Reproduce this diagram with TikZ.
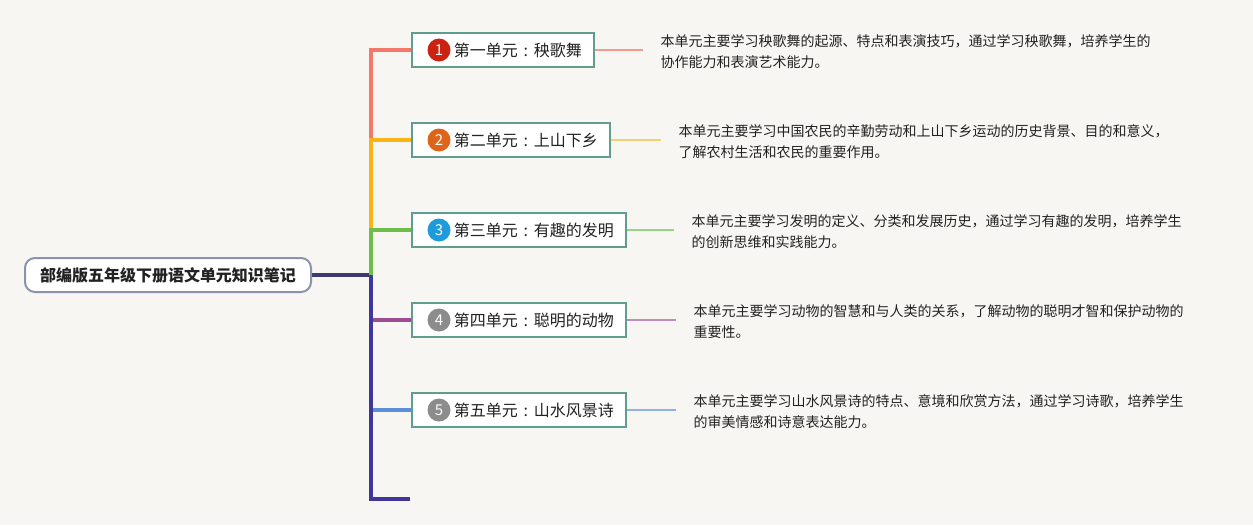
\documentclass[tikz,border=0pt]{standalone}
\usepackage{fontspec}
\newfontfamily\cjk{Noto Sans CJK SC}
\usetikzlibrary{positioning, calc}

\definecolor{bgpaper}{HTML}{F7F6F3}
\definecolor{rootline}{HTML}{8A93AB}
\definecolor{unitline}{HTML}{5F9E8F}
\definecolor{inktext}{HTML}{222222}
\definecolor{hubline}{HTML}{3C3870}
\definecolor{spinepurple}{HTML}{41369A}
\definecolor{branchA}{HTML}{F4786A}
\definecolor{branchB}{HTML}{FAB515}
\definecolor{branchC}{HTML}{6DBF4B}
\definecolor{branchD}{HTML}{9E4C94}
\definecolor{branchE}{HTML}{5A90D8}
\definecolor{leafA}{HTML}{F09A90}
\definecolor{leafB}{HTML}{F6CF70}
\definecolor{leafC}{HTML}{9AD383}
\definecolor{leafD}{HTML}{C08CBB}
\definecolor{leafE}{HTML}{8FB2E2}
\definecolor{numA}{HTML}{CC2211}
\definecolor{numB}{HTML}{DD6418}
\definecolor{numC}{HTML}{1D9BDB}
\definecolor{numD}{HTML}{8C8C8C}

% centred full-width colon
\newcommand{\ucolon}{\makebox[16pt]{:}}

\begin{document}
\begin{tikzpicture}[
    x=1pt, y=-1pt,
    font=\cjk,
    text=inktext,
    line width=4pt,
    root/.style={rectangle, draw=rootline, line width=2pt, rounded corners=10pt,
                 fill=white, minimum width=286pt, minimum height=34pt,
                 font=\cjk\bfseries\fontsize{16}{16}\selectfont},
    unit/.style={rectangle, draw=unitline, line width=1.6pt, fill=white,
                 minimum height=34pt, inner xsep=12pt, anchor=west,
                 execute at begin node={\hspace*{30pt}},
                 font=\cjk\fontsize{16}{16}\selectfont},
    num/.style={circle, minimum size=23pt, inner sep=0pt, text=white,
                font=\cjk\fontsize{15}{15}\selectfont},
    desc/.style={align=left, inner xsep=16pt, yshift=-2pt,
                 font=\cjk\fontsize{14}{21}\selectfont},
    leaf/.style={line width=1.5pt}
]

% ----------------------
% Background
% ----------------------
\fill[bgpaper] (0,0) rectangle (1253,525);
\useasboundingbox (0,0) rectangle (1253,525);

% ----------------------
% Nodes
% ----------------------

% Root
\node[root] (root) at (168,275) {部编版五年级下册语文单元知识笔记};
\coordinate (hub) at (371,275);

% Units
\node[unit] (u1) at (411,50) {第一单元\ucolon 秧歌舞};
\node[unit] (u2) at (411,140) {第二单元\ucolon 上山下乡};
\node[unit] (u3) at (411,230) {第三单元\ucolon 有趣的发明};
\node[unit] (u4) at (411,320) {第四单元\ucolon 聪明的动物};
\node[unit] (u5) at (411,410) {第五单元\ucolon 山水风景诗};
\coordinate (tail) at (410,499);

% Numbers
\node[num, fill=numA] (n1) at ([xshift=28pt]u1.west) {1};
\node[num, fill=numB] (n2) at ([xshift=28pt]u2.west) {2};
\node[num, fill=numC] (n3) at ([xshift=28pt]u3.west) {3};
\node[num, fill=numD] (n4) at ([xshift=28pt]u4.west) {4};
\node[num, fill=numD] (n5) at ([xshift=28pt]u5.west) {5};

% Descriptions
\node[desc, right=48pt of u1] (d1) {本单元主要学习秧歌舞的起源、特点和表演技巧，通过学习秧歌舞，培养学生的\\协作能力和表演艺术能力。};
\node[desc, right=50pt of u2] (d2) {本单元主要学习中国农民的辛勤劳动和上山下乡运动的历史背景、目的和意义，\\了解农村生活和农民的重要作用。};
\node[desc, right=47pt of u3] (d3) {本单元主要学习发明的定义、分类和发展历史，通过学习有趣的发明，培养学生\\的创新思维和实践能力。};
\node[desc, right=49pt of u4] (d4) {本单元主要学习动物的智慧和与人类的关系，了解动物的聪明才智和保护动物的\\重要性。};
\node[desc, right=49pt of u5] (d5) {本单元主要学习山水风景诗的特点、意境和欣赏方法，通过学习诗歌，培养学生\\的审美情感和诗意表达能力。};

% ----------------------
% Branches
% ----------------------

% Root to hub
\draw[hubline] (root.east) -- (hub);

% Upper branches
\draw[branchA] (hub |- u2.west) -- (hub |- u1.west) -- (u1.west);
\draw[branchB] (hub |- u3.west) -- (hub |- u2.west) -- (u2.west);
\draw[branchC] (hub) -- (hub |- u3.west) -- (u3.west);

% Lower branches
\draw[branchD] (hub |- u4.west) -- (u4.west);
\draw[branchE] (hub |- u5.west) -- (u5.west);
\draw[spinepurple] (hub) -- (hub |- tail) -- (tail);

% Leaves
\draw[leaf, draw=leafA] (u1.east) -- (u1.east -| d1.west);
\draw[leaf, draw=leafB] (u2.east) -- (u2.east -| d2.west);
\draw[leaf, draw=leafC] (u3.east) -- (u3.east -| d3.west);
\draw[leaf, draw=leafD] (u4.east) -- (u4.east -| d4.west);
\draw[leaf, draw=leafE] (u5.east) -- (u5.east -| d5.west);

\end{tikzpicture}
\end{document}
